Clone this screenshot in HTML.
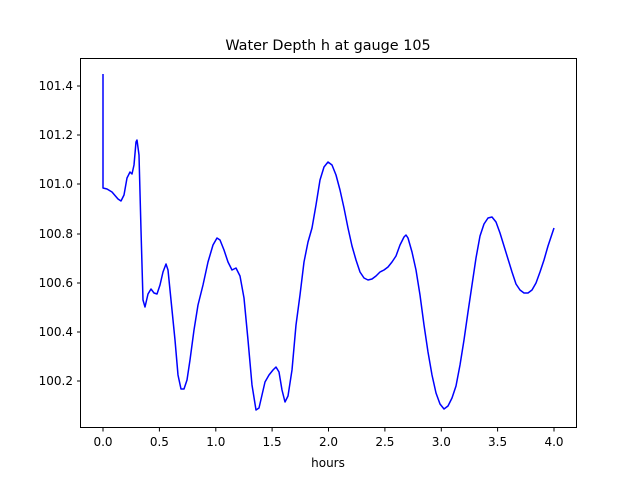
<!DOCTYPE html>
<html><head><style>body{margin:0;background:#fff}</style></head><body>
<svg width="640" height="480" xmlns="http://www.w3.org/2000/svg" font-family="DejaVu Sans, Liberation Sans, sans-serif">
<rect width="640" height="480" fill="#fff"/>
<text x="328" y="50" font-size="14.4" text-anchor="middle">Water Depth h at gauge 105</text>
<polyline fill="none" stroke="#0000ff" stroke-width="1.5" stroke-linejoin="round" points="103,74 103,188 107,189 112,192 118,199 121,201 124,195 127,178 130,172 132,174 134,165 136,142 137,140 139,155 141,230 143,300 145,307 148,294 151,289 154,293 157,294 160,285 163,272 166,264 168,270 171,300 175,340 178,375 181,389 184,389 187,380 190,360 194,330 198,305 203,285 208,262 213,245 217,238 220,240 224,250 228,262 232,270 236,268 240,276 244,298 248,340 252,385 256,410 259,408 262,395 265,382 269,375 273,370 276,367 279,372 282,390 285,402 288,396 292,370 296,325 300,295 304,262 308,242 312,228 316,205 320,180 324,167 328,162 332,165 336,175 340,190 344,208 348,228 352,246 356,260 360,272 364,278 368,280 372,279 376,276 380,272 384,270 388,267 392,262 396,256 400,245 404,237 406,235 408,238 412,252 416,270 420,295 424,325 428,352 432,375 436,393 440,404 444,409 448,406 452,398 456,386 460,365 464,340 468,312 472,285 476,258 480,236 484,224 488,218 492,217 496,222 500,233 504,246 508,259 512,272 516,284 520,290 524,293 528,293 532,290 536,283 540,272 544,260 548,246 552,234 554,228"/>
<rect x="80.5" y="58.5" width="496" height="369" fill="none" stroke="#000" stroke-width="1"/>
<g stroke="#000" stroke-width="1">
<line x1="103" y1="428" x2="103" y2="431.5"/><line x1="159.4" y1="428" x2="159.4" y2="431.5"/><line x1="215.8" y1="428" x2="215.8" y2="431.5"/><line x1="272.1" y1="428" x2="272.1" y2="431.5"/><line x1="328.5" y1="428" x2="328.5" y2="431.5"/><line x1="384.9" y1="428" x2="384.9" y2="431.5"/><line x1="441.3" y1="428" x2="441.3" y2="431.5"/><line x1="497.6" y1="428" x2="497.6" y2="431.5"/><line x1="554" y1="428" x2="554" y2="431.5"/>
<line x1="77" y1="86" x2="80" y2="86"/><line x1="77" y1="135" x2="80" y2="135"/><line x1="77" y1="184" x2="80" y2="184"/><line x1="77" y1="234" x2="80" y2="234"/><line x1="77" y1="283" x2="80" y2="283"/><line x1="77" y1="332" x2="80" y2="332"/><line x1="77" y1="381" x2="80" y2="381"/>
</g>
<g font-size="12" text-anchor="middle">
<text x="103" y="446">0.0</text><text x="159.4" y="446">0.5</text><text x="215.8" y="446">1.0</text><text x="272.1" y="446">1.5</text><text x="328.5" y="446">2.0</text><text x="384.9" y="446">2.5</text><text x="441.3" y="446">3.0</text><text x="497.6" y="446">3.5</text><text x="554" y="446">4.0</text>
<text x="328" y="467">hours</text>
</g>
<g font-size="12" text-anchor="end">
<text x="73" y="90">101.4</text><text x="73" y="139">101.2</text><text x="73" y="188">101.0</text><text x="73" y="238">100.8</text><text x="73" y="287">100.6</text><text x="73" y="336">100.4</text><text x="73" y="385">100.2</text>
</g>
</svg>
</body></html>
